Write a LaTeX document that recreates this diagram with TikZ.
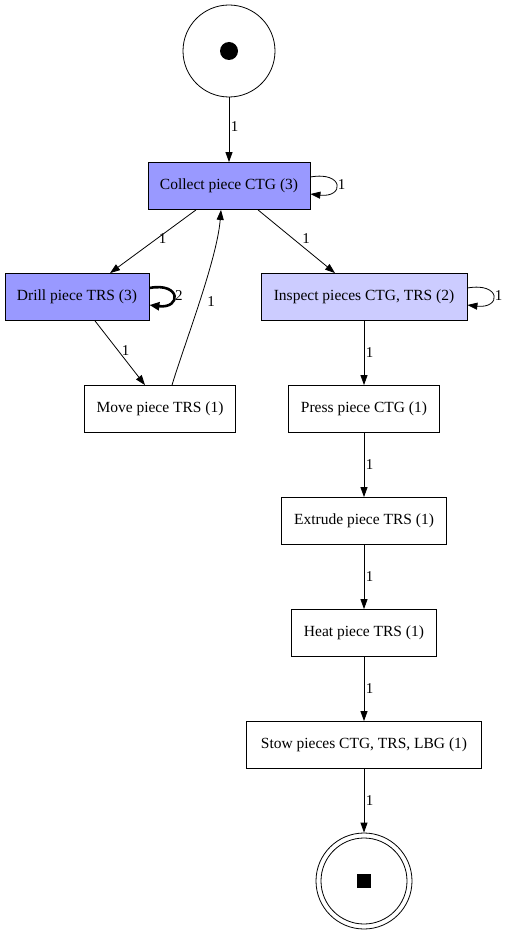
\documentclass[tikz,border=0pt]{standalone}
\usepackage{fontspec}
\setmainfont{Liberation Serif}
\usetikzlibrary{arrows.meta}
\definecolor{darkfill}{RGB}{153,153,255}
\definecolor{lightfill}{RGB}{204,204,255}
\begin{document}
\begin{tikzpicture}[x=1pt,y=-1pt,
  font=\fontsize{15.5}{18}\selectfont,
  trans/.style={draw,rectangle,minimum height=47pt,inner sep=0pt,line width=0.8pt},
  arc/.style={line width=0.8pt,-{Triangle[length=10pt,width=7pt]}},
  thickarc/.style={line width=2.6pt,-{Triangle[length=10pt,width=8pt]}},
  lab/.style={right,inner sep=1.5pt,font=\fontsize{15}{17}\selectfont}]
\useasboundingbox (0,0) rectangle (504,936);
\fill[white] (0,0) rectangle (504,936);
% places
\node[draw,circle,minimum size=92pt,inner sep=0pt,line width=0.8pt] (src) at (229,51) {};
\fill (src.center) circle (9pt);
\node[draw,circle,minimum size=96pt,inner sep=0pt,line width=0.8pt] (sink) at (364,881) {};
\node[draw,circle,minimum size=86pt,inner sep=0pt,line width=0.8pt] (sinkin) at (364,881) {};
\fill ([shift={(-7,-7)}]sink.center) rectangle ([shift={(7,7)}]sink.center);
% transitions
\node[trans,fill=darkfill,minimum width=162pt] (collect) at (229,186) {Collect piece CTG (3)};
\node[trans,fill=darkfill,minimum width=144pt] (drill) at (77,297) {Drill piece TRS (3)};
\node[trans,fill=lightfill,minimum width=206pt] (inspect) at (364,297) {Inspect pieces CTG, TRS (2)};
\node[trans,minimum width=151pt] (move) at (160,409) {Move piece TRS (1)};
\node[trans,minimum width=151pt] (press) at (364,409) {Press piece CTG (1)};
\node[trans,minimum width=165pt] (extrude) at (364,521) {Extrude piece TRS (1)};
\node[trans,minimum width=145pt] (heat) at (364,633) {Heat piece TRS (1)};
\node[trans,minimum width=235pt] (stow) at (364,745) {Stow pieces CTG, TRS, LBG (1)};
% arcs
\draw[arc] (src) -- node[lab,pos=0.45]{1} (collect);
\draw[arc] ([yshift=9]collect.east) .. controls +(34,-6) and +(34,4) .. node[lab,pos=0.5]{1} ([yshift=-8]collect.east);
\draw[arc] ([xshift=-33]collect.south) -- node[lab,pos=0.5,xshift=4,yshift=3]{1} ([xshift=33]drill.north);
\draw[arc] ([xshift=29]collect.south) -- node[lab,pos=0.5,xshift=4,yshift=3]{1} ([xshift=-29]inspect.north);
\draw[thickarc] ([yshift=9]drill.east) .. controls +(32,-6) and +(32,4) .. node[lab,pos=0.5,xshift=-1]{2} ([yshift=-8]drill.east);
\draw[arc] ([xshift=18]drill.south) -- node[lab,pos=0.5,yshift=2]{1} ([xshift=-15]move.north);
\draw[arc] ([xshift=12]move.north) .. controls +(12,-40) and +(-4,50) .. node[lab,pos=0.5,xshift=6]{1} ([xshift=-8]collect.south);
\draw[arc] ([yshift=9]inspect.east) .. controls +(34,-6) and +(34,4) .. node[lab,pos=0.5]{1} ([yshift=-8]inspect.east);
\draw[arc] (inspect) -- node[lab]{1} (press);
\draw[arc] (press) -- node[lab]{1} (extrude);
\draw[arc] (extrude) -- node[lab]{1} (heat);
\draw[arc] (heat) -- node[lab]{1} (stow);
\draw[arc] (stow) -- node[lab]{1} (sink);
\end{tikzpicture}
\end{document}
